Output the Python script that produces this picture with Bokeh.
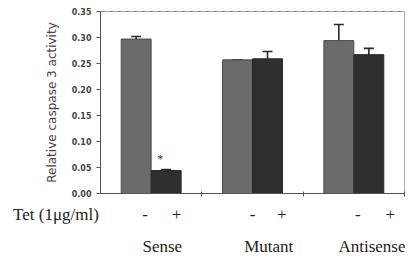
from bokeh.plotting import figure
from bokeh.models import (FixedTicker, NumeralTickFormatter, Range1d, Span,
                          Label, Whisker, ColumnDataSource, LinearAxis)
from bokeh.embed import file_html
from bokeh.resources import INLINE

# ---- data ----
groups = ["Sense", "Mutant", "Antisense"]
treat_labels = ["-", "+"]
minus_vals = [0.297, 0.257, 0.294]
plus_vals = [0.044, 0.259, 0.267]
minus_err = [0.005, 0.000, 0.031]
plus_err = [0.002, 0.014, 0.012]
y_ticks = [0.00, 0.05, 0.10, 0.15, 0.20, 0.25, 0.30, 0.35]
y_title = "Relative caspase 3 activity"
x_title = "Tet (1\u03bcg/ml)"
star_text = "*"

# ---- layout constants ----
BAR_W = 0.295
OFF = 0.148
minus_lab_x = [0.44, 1.50, 2.54]
plus_lab_x = [0.75, 1.79, 2.86]
group_lab_x = [0.61, 1.66, 2.76]
TITLE_TICK = 0.0005
TITLE_PAD = "\u00a0" * 21
FRAME_L, FRAME_W, FRAME_T, FRAME_H = 100, 304, 11, 182
W, H = 405, 259

xs = list(range(len(groups)))
src_minus = ColumnDataSource(dict(
    x=[i + 0.5 - OFF for i in xs], top=minus_vals,
    upper=[v + e for v, e in zip(minus_vals, minus_err)],
    lower=[v - e for v, e in zip(minus_vals, minus_err)]))
src_plus = ColumnDataSource(dict(
    x=[i + 0.5 + OFF for i in xs], top=plus_vals,
    upper=[v + e for v, e in zip(plus_vals, plus_err)],
    lower=[v - e for v, e in zip(plus_vals, plus_err)]))

p = figure(width=W, height=H, output_backend="svg", toolbar_location=None,
           x_range=Range1d(0, 3), y_range=Range1d(0, 0.35),
           min_border_left=FRAME_L, min_border_right=W - FRAME_L - FRAME_W,
           min_border_top=FRAME_T, min_border_bottom=H - FRAME_T - FRAME_H)
p.background_fill_color = "white"
p.border_fill_color = "white"
p.outline_line_color = "#b0b0b0"
p.xgrid.visible = False
p.ygrid.visible = False

p.vbar(x="x", top="top", width=BAR_W, source=src_minus,
       fill_color="#6b6b6b", line_color="#4a4a4a", line_width=1)
p.vbar(x="x", top="top", width=BAR_W, source=src_plus,
       fill_color="#2f2f2f", line_color="#262626", line_width=1)

for s in (src_minus, src_plus):
    w = Whisker(source=s, base="x", upper="upper", lower="lower",
                line_color="#2a2a2a", line_width=1.6)
    for h in (w.upper_head, w.lower_head):
        h.size = 10
        h.line_color = "#2a2a2a"
        h.line_width = 1.6
    p.add_layout(w)

p.add_layout(Label(x=0.59, y=plus_vals[0] + 0.023, text=star_text,
                   text_align="center", text_baseline="middle",
                   text_font="Liberation Serif", text_font_size="12px",
                   text_color="#333"))

p.add_layout(Span(location=0.35, dimension="width", line_color="#555",
                  line_dash="5 3", line_width=1))

ya = p.yaxis[0]
ya.ticker = FixedTicker(ticks=y_ticks)
ya.formatter = NumeralTickFormatter(format="0.00")
ya.major_label_text_font = "DejaVu Sans"
ya.major_label_text_font_size = "8px"
ya.major_label_text_font_style = "bold"
ya.major_label_text_color = "#444"
ya.major_label_standoff = 5
ya.major_tick_out = 4
ya.major_tick_in = 0
ya.minor_tick_line_color = None
ya.axis_line_color = "#555"
ya.major_tick_line_color = "#555"
ya.axis_label = y_title
ya.axis_label_text_font = "DejaVu Sans"
ya.axis_label_text_font_size = "12px"
ya.axis_label_text_font_style = "normal"
ya.axis_label_text_color = "#444"
ya.axis_label_standoff = 10

SERIF = "Liberation Serif"

# main x axis: boundary ticks (minor) + treatment labels
xa = p.xaxis[0]
treat_ticks = [TITLE_TICK] + minus_lab_x + plus_lab_x
overrides = {TITLE_TICK: x_title + TITLE_PAD}
for v in minus_lab_x:
    overrides[v] = treat_labels[0]
for v in plus_lab_x:
    overrides[v] = treat_labels[1]
xa.ticker = FixedTicker(ticks=treat_ticks, minor_ticks=[1, 2, 3])
xa.major_label_overrides = overrides
xa.major_tick_line_color = None
xa.major_tick_out = 0
xa.major_tick_in = 0
xa.minor_tick_out = 3
xa.minor_tick_in = 2
xa.minor_tick_line_color = "#555"
xa.axis_line_color = "#555"
xa.major_label_text_font = SERIF
xa.major_label_text_font_size = "17px"
xa.major_label_text_color = "#222"
xa.major_label_standoff = 8

# group names axis
ga = LinearAxis(ticker=FixedTicker(ticks=group_lab_x),
                major_label_overrides={v: g for v, g in zip(group_lab_x, groups)})
ga.axis_line_color = None
ga.major_tick_line_color = None
ga.minor_tick_line_color = None
ga.major_tick_out = 0
ga.major_tick_in = 0
ga.major_label_text_font = SERIF
ga.major_label_text_font_size = "17px"
ga.major_label_text_color = "#222"
ga.major_label_standoff = 10
p.add_layout(ga, "below")

open("out.html", "w").write(file_html(p, INLINE))
